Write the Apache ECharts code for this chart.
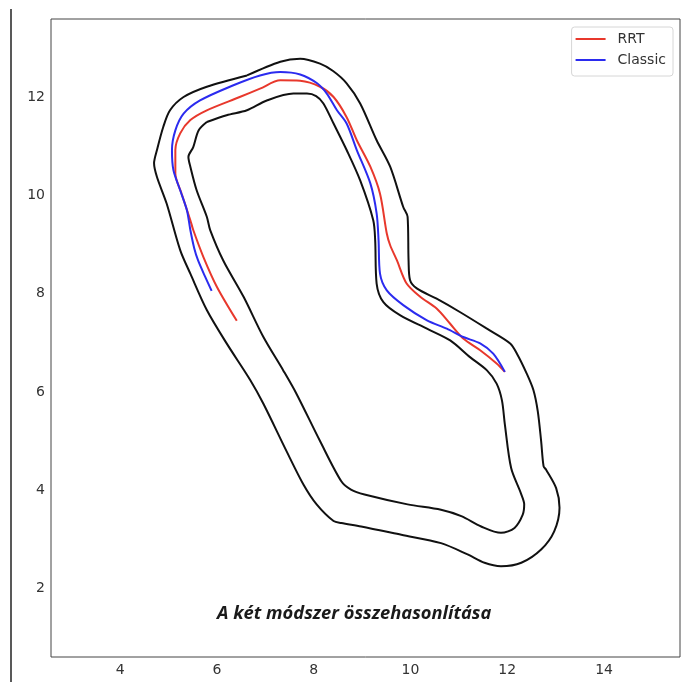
<!DOCTYPE html>
<html>
<head>
<meta charset="utf-8">
<script src="https://cdn.jsdelivr.net/npm/echarts@6/dist/echarts.min.js"></script>
<style>
html,body{margin:0;padding:0;background:#fff;}
#chart{width:682px;height:682px;}
</style>
</head>
<body>
<div id="chart"></div>
<script>
// Axis ticks
const xTicks = [4, 6, 8, 10, 12, 14];
const yTicks = [2, 4, 6, 8, 10, 12];

// Outer track boundary (closed loop)
const outerBoundary = [
  [6.62,12.45],[7.31,12.73],[7.72,12.79],[8.13,12.69],[8.40,12.54],[8.68,12.29],
  [8.96,11.88],[9.30,11.13],[9.58,10.59],[9.85,9.77],[9.94,9.57],[9.96,8.68],
  [9.99,8.28],[10.13,8.11],[10.54,7.90],[11.02,7.63],[11.58,7.29],[12.06,6.99],
  [12.20,6.78],[12.40,6.38],[12.54,6.04],[12.63,5.61],[12.70,5.00],[12.75,4.49],
  [12.80,4.42],[13.01,4.04],[13.08,3.64],[12.97,3.16],[12.70,2.79],[12.29,2.52],
  [11.87,2.45],[11.53,2.52],[11.18,2.69],[10.63,2.92],[9.81,3.09],[8.98,3.26],
  [8.57,3.33],[8.41,3.37],[8.06,3.71],[7.79,4.11],[7.44,4.79],[6.96,5.76],
  [6.69,6.24],[6.20,6.99],[5.79,7.67],[5.45,8.41],[5.24,8.89],[4.96,9.84],
  [4.76,10.38],[4.70,10.66],[4.76,10.93],[4.89,11.40],[5.03,11.74],[5.31,12.01],
  [5.79,12.22],[6.62,12.45]
];

// Inner track boundary (closed loop)
const innerBoundary = [
  [5.79,11.50],[6.20,11.64],[6.62,11.74],[7.03,11.94],[7.58,12.08],[7.86,12.08],
  [8.05,12.03],[8.20,11.88],[8.41,11.47],[8.68,10.93],[8.96,10.31],[9.23,9.50],
  [9.27,9.09],[9.30,8.21],[9.44,7.83],[9.79,7.56],[10.34,7.29],[10.82,7.05],
  [11.23,6.71],[11.58,6.44],[11.78,6.17],[11.89,5.83],[11.95,5.34],[12.08,4.45],
  [12.28,3.94],[12.35,3.71],[12.32,3.50],[12.15,3.23],[11.87,3.13],[11.46,3.26],
  [11.05,3.47],[10.63,3.60],[9.94,3.71],[9.05,3.91],[8.77,4.01],[8.57,4.18],
  [8.13,5.00],[7.64,5.97],[7.37,6.44],[6.96,7.12],[6.55,7.94],[6.13,8.68],
  [5.86,9.30],[5.79,9.57],[5.58,10.11],[5.45,10.59],[5.41,10.79],[5.51,10.99],
  [5.62,11.33],[5.79,11.50]
];

// RRT path
const rrtPath = [
  [6.41,7.45],[6.00,8.14],[5.72,8.75],[5.51,9.30],[5.45,9.50],[5.27,10.04],
  [5.14,10.45],[5.14,10.93],[5.24,11.27],[5.45,11.54],[5.79,11.74],[6.47,12.01],
  [6.89,12.18],[7.31,12.35],[7.72,12.34],[8.13,12.22],[8.41,12.01],[8.68,11.60],
  [8.89,11.13],[9.17,10.59],[9.37,10.04],[9.51,9.23],[9.58,8.99],[9.72,8.68],
  [9.92,8.21],[10.20,7.94],[10.54,7.70],[10.82,7.39],[11.09,7.09],[11.44,6.85],
  [11.78,6.58],[11.95,6.41]
];

// Classic path
const classicPath = [
  [5.89,8.06],[5.76,8.34],[5.61,8.68],[5.53,8.93],[5.45,9.30],[5.38,9.70],
  [5.24,10.11],[5.10,10.52],[5.07,10.93],[5.14,11.33],[5.31,11.67],[5.65,11.94],
  [6.34,12.25],[6.89,12.45],[7.31,12.52],[7.72,12.47],[8.07,12.29],[8.27,12.08],
  [8.48,11.74],[8.68,11.47],[8.89,10.93],[9.17,10.25],[9.30,9.64],[9.34,9.09],
  [9.37,8.41],[9.51,8.07],[9.85,7.77],[10.34,7.46],[10.75,7.29],[11.09,7.12],
  [11.44,6.99],[11.71,6.78],[11.95,6.41]
];

const chart = echarts.init(document.getElementById('chart'));
const labelStyle = {color:'#333', fontSize:14, fontFamily:'DejaVu Sans'};
function lineSeries(name, data, color, smooth){
  return {
    name: name, type:'line', data: data, showSymbol:false, symbol:'none',
    smooth: smooth, lineStyle:{color:color, width:2}, itemStyle:{color:color},
    animation:false, silent:true
  };
}
chart.setOption({
  animation:false,
  backgroundColor:'#fff',
  grid:{left:51, right:2, top:19, bottom:25, show:true, borderColor:'#444', borderWidth:1},
  xAxis:{
    type:'value', min:2.57, max:15.57,
    axisLine:{show:false}, axisTick:{show:false}, splitLine:{show:false},
    axisLabel:Object.assign({customValues:xTicks, margin:6}, labelStyle)
  },
  yAxis:{
    type:'value', min:0.6, max:13.6,
    axisLine:{show:false}, axisTick:{show:false}, splitLine:{show:false},
    axisLabel:Object.assign({customValues:yTicks, margin:6}, labelStyle)
  },
  legend:{
    data:['RRT','Classic'], orient:'vertical', right:9, top:27,
    icon:'rect', itemWidth:30, itemHeight:2, itemGap:7,
    padding:[5,7,9,4], borderColor:'#d6d6d6', borderWidth:1, borderRadius:3,
    textStyle:{color:'#333', fontSize:14, fontFamily:'DejaVu Sans', padding:[0,0,0,7]}
  },
  title:{
    text:'A két módszer összehasonlítása', left:212, top:600,
    textStyle:{fontSize:18.3, fontWeight:'bold', fontStyle:'italic', fontFamily:'Open Sans', color:'#1a1a1a'}
  },
  graphic:[{
    type:'line', shape:{x1:11, y1:9, x2:11, y2:682},
    style:{stroke:'#222', lineWidth:1.5}, silent:true
  }],
  series:[
    lineSeries('outer', outerBoundary, '#111', 0.3),
    lineSeries('inner', innerBoundary, '#111', 0.3),
    lineSeries('RRT', rrtPath, '#e8382c', 0.3),
    lineSeries('Classic', classicPath, '#2b2bef', 0.3)
  ]
});
</script>
</body>
</html>
